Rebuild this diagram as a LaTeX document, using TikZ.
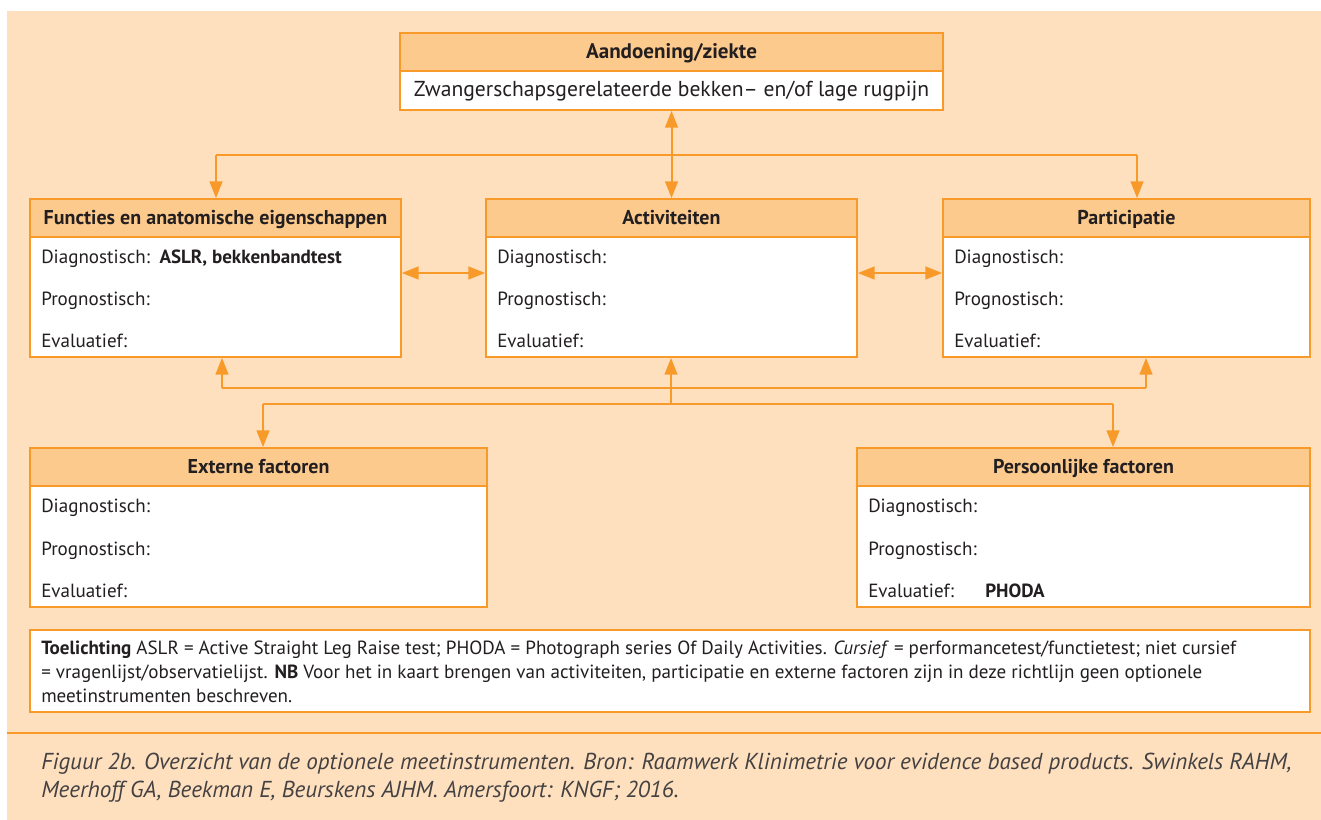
\documentclass[tikz,border=0pt]{standalone}
\usepackage{fontspec}
\setmainfont{PT Sans}
\usetikzlibrary{arrows.meta}
\definecolor{bg}{HTML}{FEE0BF}
\definecolor{org}{HTML}{F79A2A}
\definecolor{hdrfill}{HTML}{FDCA8E}
\definecolor{txt}{HTML}{231F20}
\begin{document}
\begin{tikzpicture}[x=0.75pt,y=-0.75pt,
  every node/.style={text=txt, font=\fontsize{14.3}{16}\selectfont, inner sep=0pt},
  hbox/.style={draw=org, fill=hdrfill, line width=1.3pt, font=\fontsize{15}{17}\selectfont\bfseries, text height=1.0em, text depth=0.05em},
  bbox/.style={draw=org, fill=white, line width=1.3pt},
  lbl/.style={anchor=base west},
  conn/.style={draw=org, line width=1.5pt},
  tip/.style={-{Triangle[length=12.5pt,width=9.5pt]}},
  dtip/.style={{Triangle[length=12.5pt,width=9.5pt]}-{Triangle[length=12.5pt,width=9.5pt]}}
]
\useasboundingbox (0,0) rectangle (1321,820);
\fill[bg] (7,11) rectangle (1321,820);

% top box
\node[hbox, minimum width=407.25pt, minimum height=28.5pt, font=\fontsize{15.8}{17}\selectfont\bfseries] (aand) at (671.5,52) {Aandoening/ziekte};
\node[bbox, minimum width=407.25pt, minimum height=29.25pt, text height=0.95em, text depth=0.05em, font=\fontsize{16.2}{18}\selectfont] (aandb) at (671.5,90.5) {Zwangerschapsgerelateerde bekken– en/of lage rugpijn};

% Functies
\node[hbox, minimum width=278.25pt, minimum height=28.5pt] (fun) at (215.5,218) {Functies en anatomische eigenschappen};
\node[bbox, minimum width=278.25pt, minimum height=90pt] (funb) at (215.5,297) {};
\node[lbl] (fun1) at (41,263) {Diagnostisch:\enspace\textbf{ASLR, bekkenbandtest}};
\node[lbl] (fun2) at (41,305) {Prognostisch:};
\node[lbl] (fun3) at (41,347) {Evaluatief:};

% Activiteiten
\node[hbox, minimum width=278.25pt, minimum height=28.5pt] (act) at (671.5,218) {Activiteiten};
\node[bbox, minimum width=278.25pt, minimum height=90pt] (actb) at (671.5,297) {};
\node[lbl] (act1) at (497,263) {Diagnostisch:};
\node[lbl] (act2) at (497,305) {Prognostisch:};
\node[lbl] (act3) at (497,347) {Evaluatief:};

% Participatie
\node[hbox, minimum width=275.25pt, minimum height=28.5pt] (par) at (1126.5,218) {Participatie};
\node[bbox, minimum width=275.25pt, minimum height=90pt] (parb) at (1126.5,297) {};
\node[lbl] (par1) at (954,263) {Diagnostisch:};
\node[lbl] (par2) at (954,305) {Prognostisch:};
\node[lbl] (par3) at (954,347) {Evaluatief:};

% Externe factoren
\node[hbox, minimum width=342.75pt, minimum height=28.5pt] (ext) at (258.5,467) {Externe factoren};
\node[bbox, minimum width=342.75pt, minimum height=90.75pt] (extb) at (258.5,546.5) {};
\node[lbl] (ext1) at (41,512) {Diagnostisch:};
\node[lbl] (ext2) at (41,555) {Prognostisch:};
\node[lbl] (ext3) at (41,597) {Evaluatief:};

% Persoonlijke factoren
\node[hbox, minimum width=339.75pt, minimum height=28.5pt] (per) at (1083.5,467) {Persoonlijke factoren};
\node[bbox, minimum width=339.75pt, minimum height=90.75pt] (perb) at (1083.5,546.5) {};
\node[lbl] (per1) at (868,512) {Diagnostisch:};
\node[lbl] (per2) at (868,555) {Prognostisch:};
\node[lbl] (per3) at (868,597) {Evaluatief:};
\node[lbl] (per4) at (985,597) {\textbf{PHODA}};

% Toelichting
\node[bbox, minimum width=960pt, minimum height=61.5pt] (toel) at (670,671) {};
\node[anchor=north west, align=left, font=\fontsize{14.3}{18}\selectfont] (toelt) at (41,641)
 {\textbf{Toelichting} ASLR = Active Straight Leg Raise test; PHODA = Photograph series Of Daily Activities. \textit{Cursief} = performancetest/functietest; niet cursief\\
 = vragenlijst/observatielijst. \textbf{NB} Voor het in kaart brengen van activiteiten, participatie en externe factoren zijn in deze richtlijn geen optionele\\
 meetinstrumenten beschreven.};

% separator and caption
\coordinate (sepl) at (7,733);
\coordinate (sepr) at (1321,733);
\draw[conn] (sepl) -- (sepr);
\node[anchor=north west, align=left, font=\fontsize{17.3}{21}\selectfont\itshape, text=txt!85] (cap) at (41,753)
 {Figuur 2b. Overzicht van de optionele meetinstrumenten. Bron: Raamwerk Klinimetrie voor evidence based products. Swinkels RAHM,\\
 Meerhoff GA, Beekman E, Beurskens AJHM. Amersfoort: KNGF; 2016.};

% connectors top
\coordinate (tl) at (216,155);
\coordinate (tr) at (1137,155);
\draw[conn, dtip] (aandb.south) -- (act.north);
\draw[conn] (tl) -- (tr);
\draw[conn, tip] (tl) -- (tl |- fun.north);
\draw[conn, tip] (tr) -- (tr |- par.north);

% horizontal double arrows
\coordinate (hy) at (0,273);
\draw[conn, dtip] (funb.east |- hy) -- (actb.west |- hy);
\draw[conn, dtip] (actb.east |- hy) -- (parb.west |- hy);

% connectors bottom
\coordinate (bl) at (222,388);
\coordinate (br) at (1146,388);
\coordinate (cl) at (263,404);
\coordinate (cr) at (1113,404);
\coordinate (cm) at (671,404);
\draw[conn] (bl) -- (br);
\draw[conn, tip] (bl) -- (bl |- funb.south);
\draw[conn, tip] (br) -- (br |- parb.south);
\draw[conn] (cl) -- (cr);
\draw[conn, tip] (cm) -- (cm |- actb.south);
\draw[conn, tip] (cl) -- (cl |- ext.north);
\draw[conn, tip] (cr) -- (cr |- per.north);
\end{tikzpicture}
\end{document}
